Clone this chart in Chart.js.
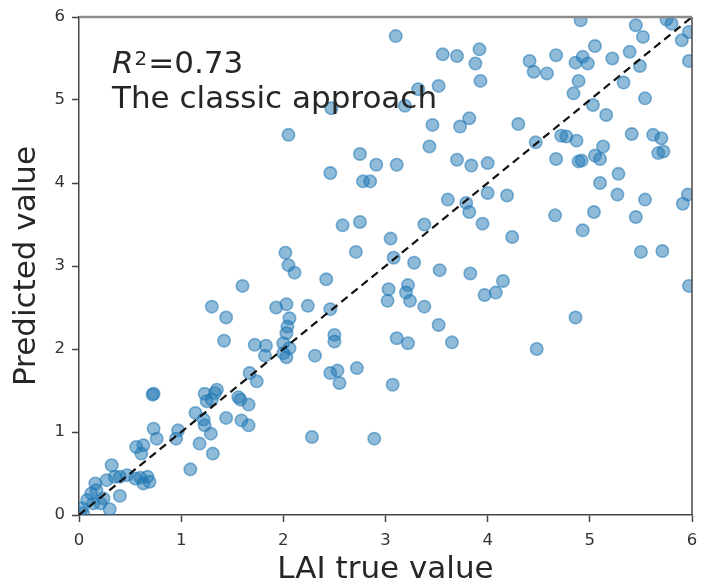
<!DOCTYPE html>
<html>
<head>
<meta charset="utf-8">
<script src="https://cdn.jsdelivr.net/npm/chart.js@4.4.0/dist/chart.umd.min.js"></script>
<style>
  html, body { margin: 0; padding: 0; background: #fff; }
  canvas { display: block; }
</style>
</head>
<body>
<canvas id="lai" width="703" height="585"></canvas>
<script>
// LAI measured vs predicted (classic approach)
var laiTrue = [
  2.05, 3.10, 3.56, 3.70, 3.92, 3.88, 3.93, 3.32, 3.52, 3.19, 2.47, 3.46, 3.73, 3.82, 4.30, 3.43,
  2.75, 2.91, 3.11, 2.46, 2.78, 2.85, 3.70, 3.84, 4.00, 3.61, 4.00, 4.19, 4.91, 5.45, 5.75, 5.80,
  5.52, 5.90, 5.97, 5.05, 4.67, 4.41, 4.45, 4.58, 4.86, 4.93, 4.98, 5.22, 5.39, 5.49, 5.97, 4.89,
  4.84, 5.33, 5.03, 5.16, 5.54, 4.47, 4.72, 4.77, 4.87, 5.13, 5.41, 5.62, 5.70, 5.72, 5.67, 4.67,
  4.89, 4.92, 5.05, 5.10, 5.28, 5.10, 5.27, 5.54, 5.96, 5.91, 4.66, 5.04, 5.45, 4.24, 4.93, 5.50,
  5.71, 4.15, 5.97, 4.86, 4.48, 3.79, 3.82, 3.95, 2.58, 2.75, 3.38, 3.05, 2.71, 2.02, 2.05, 2.11,
  3.08, 3.28, 3.53, 3.83, 2.42, 3.03, 3.02, 3.22, 3.20, 3.24, 3.97, 4.08, 2.03, 2.24, 2.46, 3.38,
  2.06, 2.04, 2.03, 3.52, 2.50, 2.50, 3.11, 3.22, 3.65, 2.31, 2.00, 2.06, 2.03, 2.00, 2.46, 2.53,
  2.55, 2.72, 3.07, 2.28, 2.89, 1.60, 1.30, 1.44, 1.42, 1.93, 1.72, 1.83, 1.82, 1.67, 1.74, 0.73,
  0.72, 1.23, 1.33, 1.35, 1.25, 1.30, 1.56, 1.58, 1.66, 1.44, 1.14, 1.22, 1.23, 1.59, 1.66, 1.29,
  1.18, 1.31, 1.09, 0.97, 0.95, 0.73, 0.76, 0.56, 0.63, 0.61, 0.32, 0.67, 0.63, 0.60, 0.55, 0.69,
  0.47, 0.40, 0.35, 0.40, 0.30, 0.16, 0.17, 0.12, 0.08, 0.14, 0.21, 0.03, 0.04, 0.24, 0.27
];
var laiPred = [
  4.58, 5.77, 5.55, 5.53, 5.61, 5.44, 5.23, 5.13, 5.17, 4.93, 4.90, 4.70, 4.68, 4.78, 4.71, 4.44,
  4.35, 4.22, 4.22, 4.12, 4.02, 4.02, 4.28, 4.21, 4.24, 3.80, 3.88, 3.85, 5.96, 5.90, 5.97, 5.92,
  5.76, 5.72, 5.82, 5.65, 5.54, 5.47, 5.34, 5.32, 5.45, 5.52, 5.44, 5.50, 5.58, 5.41, 5.47, 5.23,
  5.08, 5.21, 4.94, 4.82, 5.02, 4.49, 4.57, 4.56, 4.51, 4.44, 4.59, 4.58, 4.54, 4.38, 4.36, 4.29,
  4.26, 4.27, 4.33, 4.29, 4.11, 4.00, 3.86, 3.80, 3.86, 3.75, 3.61, 3.65, 3.59, 3.35, 3.43, 3.17,
  3.18, 2.82, 2.76, 2.38, 2.00, 3.76, 3.65, 3.51, 3.49, 3.53, 3.50, 3.33, 3.17, 3.16, 3.01, 2.92,
  3.10, 3.04, 2.95, 2.91, 2.84, 2.72, 2.58, 2.77, 2.68, 2.58, 2.65, 2.68, 2.54, 2.52, 2.48, 2.51,
  2.37, 2.27, 2.19, 2.29, 2.17, 2.09, 2.13, 2.07, 2.08, 1.92, 2.07, 2.01, 1.90, 1.95, 1.71, 1.74,
  1.59, 1.77, 1.57, 0.94, 0.92, 2.76, 2.51, 2.38, 2.10, 2.50, 2.05, 2.04, 1.92, 1.71, 1.61, 1.46,
  1.45, 1.46, 1.47, 1.51, 1.37, 1.39, 1.42, 1.39, 1.33, 1.17, 1.23, 1.15, 1.08, 1.14, 1.08, 0.98,
  0.86, 0.74, 0.55, 1.02, 0.92, 1.04, 0.92, 0.82, 0.84, 0.74, 0.60, 0.46, 0.38, 0.45, 0.44, 0.40,
  0.48, 0.46, 0.46, 0.23, 0.07, 0.38, 0.30, 0.26, 0.18, 0.14, 0.14, 0.08, 0.02, 0.20, 0.42
];
var oneToOne = [0, 6];
var axisTicks = [0, 1, 2, 3, 4, 5, 6];

var points = laiTrue.map(function (x, i) { return { x: x, y: laiPred[i] }; });
var diag = oneToOne.map(function (v) { return { x: v, y: v }; });

var FONT = "'DejaVu Sans', sans-serif";
var INK = '#262626';

// top/right spines and the R^2 note
var extras = {
  id: 'extras',
  afterDraw: function (chart) {
    var ctx = chart.ctx;
    var a = chart.chartArea;
    ctx.save();
    ctx.strokeStyle = '#444';
    ctx.lineWidth = 1.5;
    ctx.beginPath();
    ctx.moveTo(a.right, a.top);
    ctx.lineTo(a.right, a.bottom);
    ctx.stroke();
    ctx.strokeStyle = '#8c8c8c';
    ctx.lineWidth = 2.5;
    ctx.beginPath();
    ctx.moveTo(a.left, a.top);
    ctx.lineTo(a.right, a.top);
    ctx.stroke();

    ctx.fillStyle = INK;
    ctx.textBaseline = 'alphabetic';
    ctx.textAlign = 'left';
    ctx.font = 'italic 31px ' + FONT;
    ctx.fillText('R', 112, 73);
    var x = 112 + ctx.measureText('R').width + 1;
    ctx.font = '20px ' + FONT;
    ctx.fillText('2', x, 65);
    x += ctx.measureText('2').width + 1;
    ctx.font = '31px ' + FONT;
    ctx.fillText('=0.73', x, 73);
    ctx.fillText('The classic approach', 112, 108);
    ctx.restore();
  }
};

function axisOpts(title, isX) {
  return {
    type: 'linear',
    min: 0,
    max: 6,
    afterBuildTicks: function (s) { s.ticks = axisTicks.map(function (v) { return { value: v }; }); },
    afterFit: function (s) {
      if (isX) {
        s.height = 70;
        s.paddingLeft = 0;
        s.paddingRight = 0;
      } else {
        s.width = 79;
        s.paddingTop = 0;
        s.paddingBottom = 0;
      }
    },
    grid: {
      drawOnChartArea: false,
      drawTicks: true,
      tickLength: 7,
      tickWidth: 1.5,
      tickColor: '#444'
    },
    border: { display: true, color: '#444', width: 1.5 },
    ticks: {
      color: '#333',
      padding: isX ? 9 : 7,
      font: { family: FONT, size: 16.5 }
    },
    title: {
      display: true,
      text: title,
      color: INK,
      font: { family: FONT, size: 31, lineHeight: 1 },
      padding: isX ? { top: 0, bottom: 0 } : { top: 11, bottom: 0 }
    }
  };
}

new Chart(document.getElementById('lai').getContext('2d'), {
  type: 'scatter',
  data: {
    datasets: [{
      label: 'classic',
      data: points,
      order: 1,
      pointRadius: 6.2,
      pointHoverRadius: 6.2,
      backgroundColor: 'rgba(31, 119, 180, 0.5)',
      borderColor: 'rgba(31, 119, 180, 0.55)',
      borderWidth: 1.6
    }, {
      type: 'line',
      label: '1:1',
      data: diag,
      order: 0,
      borderColor: '#111',
      borderWidth: 2.2,
      borderDash: [8, 5],
      pointRadius: 0,
      fill: false
    }]
  },
  options: {
    responsive: false,
    animation: false,
    layout: { padding: { top: 17, right: 11, left: 0, bottom: 0 } },
    plugins: {
      legend: { display: false },
      tooltip: { enabled: false }
    },
    scales: {
      x: axisOpts('LAI true value', true),
      y: axisOpts('Predicted value', false)
    }
  },
  plugins: [extras]
});
</script>
</body>
</html>
